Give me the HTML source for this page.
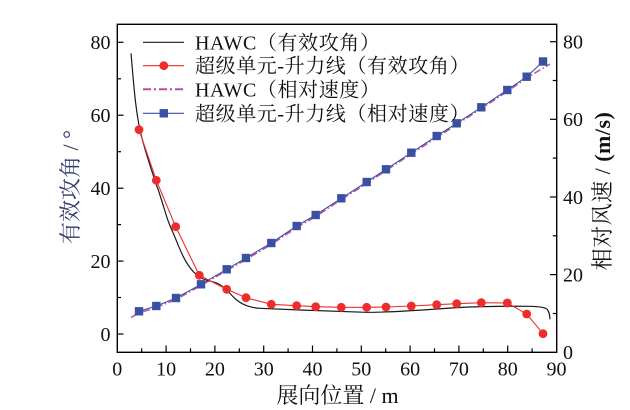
<!DOCTYPE html>
<html><head><meta charset="utf-8"><style>
html,body{margin:0;padding:0;background:#fff;}
svg{display:block;}
text{font-family:"Liberation Serif","Noto Serif CJK SC",serif;fill:#111;}
</style></head><body>
<svg width="630" height="410" viewBox="0 0 630 410" xmlns="http://www.w3.org/2000/svg">
<!-- frame -->
<rect x="117.3" y="24.3" width="439.4" height="328" fill="none" stroke="#000" stroke-width="1.4"/>
<!-- left ticks -->
<g stroke="#000" stroke-width="1.2">
<line x1="117.3" y1="334" x2="123.5" y2="334"/>
<line x1="117.3" y1="261.1" x2="123.5" y2="261.1"/>
<line x1="117.3" y1="188.2" x2="123.5" y2="188.2"/>
<line x1="117.3" y1="115.2" x2="123.5" y2="115.2"/>
<line x1="117.3" y1="42.3" x2="123.5" y2="42.3"/>
<line x1="117.3" y1="297.5" x2="121" y2="297.5"/>
<line x1="117.3" y1="224.6" x2="121" y2="224.6"/>
<line x1="117.3" y1="151.7" x2="121" y2="151.7"/>
<line x1="117.3" y1="78.8" x2="121" y2="78.8"/>
<!-- right ticks -->
<line x1="556.7" y1="274.6" x2="550" y2="274.6"/>
<line x1="556.7" y1="197" x2="550" y2="197"/>
<line x1="556.7" y1="119.3" x2="550" y2="119.3"/>
<line x1="556.7" y1="41.7" x2="550" y2="41.7"/>
<line x1="556.7" y1="313.5" x2="552.8" y2="313.5"/>
<line x1="556.7" y1="235.8" x2="552.8" y2="235.8"/>
<line x1="556.7" y1="158.1" x2="552.8" y2="158.1"/>
<line x1="556.7" y1="80.5" x2="552.8" y2="80.5"/>
<!-- bottom ticks -->
<line x1="166.1" y1="352.3" x2="166.1" y2="345.5"/>
<line x1="214.9" y1="352.3" x2="214.9" y2="345.5"/>
<line x1="263.7" y1="352.3" x2="263.7" y2="345.5"/>
<line x1="312.5" y1="352.3" x2="312.5" y2="345.5"/>
<line x1="361.3" y1="352.3" x2="361.3" y2="345.5"/>
<line x1="410.1" y1="352.3" x2="410.1" y2="345.5"/>
<line x1="458.9" y1="352.3" x2="458.9" y2="345.5"/>
<line x1="507.7" y1="352.3" x2="507.7" y2="345.5"/>
<line x1="141.7" y1="352.3" x2="141.7" y2="348.3"/>
<line x1="190.5" y1="352.3" x2="190.5" y2="348.3"/>
<line x1="239.3" y1="352.3" x2="239.3" y2="348.3"/>
<line x1="288.1" y1="352.3" x2="288.1" y2="348.3"/>
<line x1="336.9" y1="352.3" x2="336.9" y2="348.3"/>
<line x1="385.7" y1="352.3" x2="385.7" y2="348.3"/>
<line x1="434.5" y1="352.3" x2="434.5" y2="348.3"/>
<line x1="483.3" y1="352.3" x2="483.3" y2="348.3"/>
<line x1="532.1" y1="352.3" x2="532.1" y2="348.3"/>
</g>
<!-- left tick labels -->
<g font-size="20" text-anchor="end">
<text x="110.5" y="340.8">0</text>
<text x="110.5" y="267.9">20</text>
<text x="110.5" y="195">40</text>
<text x="110.5" y="122">60</text>
<text x="110.5" y="49.1">80</text>
</g>
<!-- right tick labels -->
<g font-size="20" text-anchor="start">
<text x="563" y="359">0</text>
<text x="563" y="281.4">20</text>
<text x="563" y="203.8">40</text>
<text x="563" y="126.1">60</text>
<text x="563" y="48.5">80</text>
</g>
<!-- bottom tick labels -->
<g font-size="20" text-anchor="middle">
<text x="117.3" y="375.5">0</text>
<text x="166.1" y="375.5">10</text>
<text x="214.9" y="375.5">20</text>
<text x="263.7" y="375.5">30</text>
<text x="312.5" y="375.5">40</text>
<text x="361.3" y="375.5">50</text>
<text x="410.1" y="375.5">60</text>
<text x="458.9" y="375.5">70</text>
<text x="507.7" y="375.5">80</text>
<text x="556.5" y="375.5">90</text>
</g>
<!-- axis titles -->
<text x="337.5" y="403" font-size="22" text-anchor="middle">展向位置 / m</text>
<text transform="translate(78,187) rotate(-90)" font-size="22" text-anchor="middle" style="fill:#2f3a6e">有效攻角 / °</text>
<text transform="translate(610,191) rotate(-90)" font-size="22" text-anchor="middle" letter-spacing="0.5">相对风速 / <tspan font-weight="bold">(m/s)</tspan></text>

<!-- purple dash-dot HAWC relative velocity -->
<polyline fill="none" stroke="#b64fa6" stroke-width="1.5" stroke-dasharray="7 2.5 1.5 2.5" points="131,317.5 139,313 156.3,307.5 176,299.5 201,285.5 226.7,270.5 246,259.5 271.3,244.5 296.7,227.5 315.7,216.5 341.3,199.5 366.7,183.5 386,170.5 411.3,154 436.7,137.5 456.7,124.5 481.3,108.5 507.3,91.5 526.7,78 550,64"/>
<!-- blue line -->
<polyline fill="none" stroke="#3a50a3" stroke-width="1.1" points="139,311.3 156.3,306 176,298 201,284.3 226.7,269.3 246,258 271.3,243 296.7,226 315.7,215 341.3,198.3 366.7,182 386,169.3 411.3,152.7 436.7,136 456.7,123.3 481.3,107.3 507.3,90 526.7,76.7 543,61.5"/>
<g fill="#3a50a3">
<rect x="134.8" y="307.1" width="8.4" height="8.4"/>
<rect x="152.1" y="301.8" width="8.4" height="8.4"/>
<rect x="171.8" y="293.8" width="8.4" height="8.4"/>
<rect x="196.8" y="280.1" width="8.4" height="8.4"/>
<rect x="222.5" y="265.1" width="8.4" height="8.4"/>
<rect x="241.8" y="253.8" width="8.4" height="8.4"/>
<rect x="267.1" y="238.8" width="8.4" height="8.4"/>
<rect x="292.5" y="221.8" width="8.4" height="8.4"/>
<rect x="311.5" y="210.8" width="8.4" height="8.4"/>
<rect x="337.1" y="194.1" width="8.4" height="8.4"/>
<rect x="362.5" y="177.8" width="8.4" height="8.4"/>
<rect x="381.8" y="165.1" width="8.4" height="8.4"/>
<rect x="407.1" y="148.5" width="8.4" height="8.4"/>
<rect x="432.5" y="131.8" width="8.4" height="8.4"/>
<rect x="452.5" y="119.1" width="8.4" height="8.4"/>
<rect x="477.1" y="103.1" width="8.4" height="8.4"/>
<rect x="503.1" y="85.8" width="8.4" height="8.4"/>
<rect x="522.5" y="72.5" width="8.4" height="8.4"/>
<rect x="538.8" y="57.3" width="8.4" height="8.4"/>
</g>

<!-- black HAWC effective AoA -->
<path fill="none" stroke="#1a1a1a" stroke-width="1.2" d="M131,53.3 C132.5,70 134,90 135.7,103.3 C137,114 138.5,123 140,130 C142.5,141 145.5,151 148.3,160 C151.5,170 155,181 158.3,190 C161,198 164,208 166.7,216.7 C169,224 171,228 173.3,233.3 C177,242 180,250 183.3,256.7 C187,264 190,268 193.3,271.7 C197,275.5 200,277.5 203.3,279 C207,280.5 212,281.5 216.7,283 C220.5,284.5 223.5,287 226.7,290 C230,293.5 233,297 236.7,300 C241,303.5 245,305.5 250,306.7 C254,307.7 257,308.2 260,308.3 L300,310 C320,310.6 340,311.6 366,312.3 C385,312.3 400,311.6 430,309.5 C445,308.4 456,307.6 470,307 C490,306.3 510,306.1 530,306.3 C538,306.5 543,307 546,308.5 C548.5,310 549.5,313 550,319.3"/>

<!-- red line -->
<polyline fill="none" stroke="#ee2c2c" stroke-width="1.1" points="139,129.7 156.3,180.3 175.7,226.7 199.3,275.3 226.7,289.3 246,297.7 271.3,304.3 296.7,305.7 315.7,306.7 341.3,307.3 366.7,307.3 386,307 411.3,306 436.7,304.7 456.7,303.7 481.3,302.7 507.3,303 526.7,314 543,333.7"/>
<g fill="#ee2c2c">
<circle cx="139" cy="129.7" r="4.4"/>
<circle cx="156.3" cy="180.3" r="4.4"/>
<circle cx="175.7" cy="226.7" r="4.4"/>
<circle cx="199.3" cy="275.3" r="4.4"/>
<circle cx="226.7" cy="289.3" r="4.4"/>
<circle cx="246" cy="297.7" r="4.4"/>
<circle cx="271.3" cy="304.3" r="4.4"/>
<circle cx="296.7" cy="305.7" r="4.4"/>
<circle cx="315.7" cy="306.7" r="4.4"/>
<circle cx="341.3" cy="307.3" r="4.4"/>
<circle cx="366.7" cy="307.3" r="4.4"/>
<circle cx="386" cy="307" r="4.4"/>
<circle cx="411.3" cy="306" r="4.4"/>
<circle cx="436.7" cy="304.7" r="4.4"/>
<circle cx="456.7" cy="303.7" r="4.4"/>
<circle cx="481.3" cy="302.7" r="4.4"/>
<circle cx="507.3" cy="303" r="4.4"/>
<circle cx="526.7" cy="314" r="4.4"/>
<circle cx="543" cy="333.7" r="4.4"/>
</g>

<!-- legend -->
<line x1="143" y1="42.3" x2="184" y2="42.3" stroke="#1a1a1a" stroke-width="1.2"/>
<line x1="143" y1="65.7" x2="184" y2="65.7" stroke="#ee2c2c" stroke-width="1.1"/>
<circle cx="163.8" cy="65.7" r="4.4" fill="#ee2c2c"/>
<line x1="143" y1="89.3" x2="184" y2="89.3" stroke="#b64fa6" stroke-width="2" stroke-dasharray="8 3 2 3"/>
<line x1="143" y1="113.3" x2="184" y2="113.3" stroke="#3a50a3" stroke-width="1.1"/>
<rect x="159.6" y="109.1" width="8.4" height="8.4" fill="#3a50a3"/>
<g font-size="20" letter-spacing="0.6">
<text x="195" y="49.3">HAWC（有效攻角）</text>
<text x="195" y="72.7">超级单元-升力线（有效攻角）</text>
<text x="195" y="96.3">HAWC（相对速度）</text>
<text x="195" y="120.3">超级单元-升力线（相对速度）</text>
</g>
</svg>
</body></html>
